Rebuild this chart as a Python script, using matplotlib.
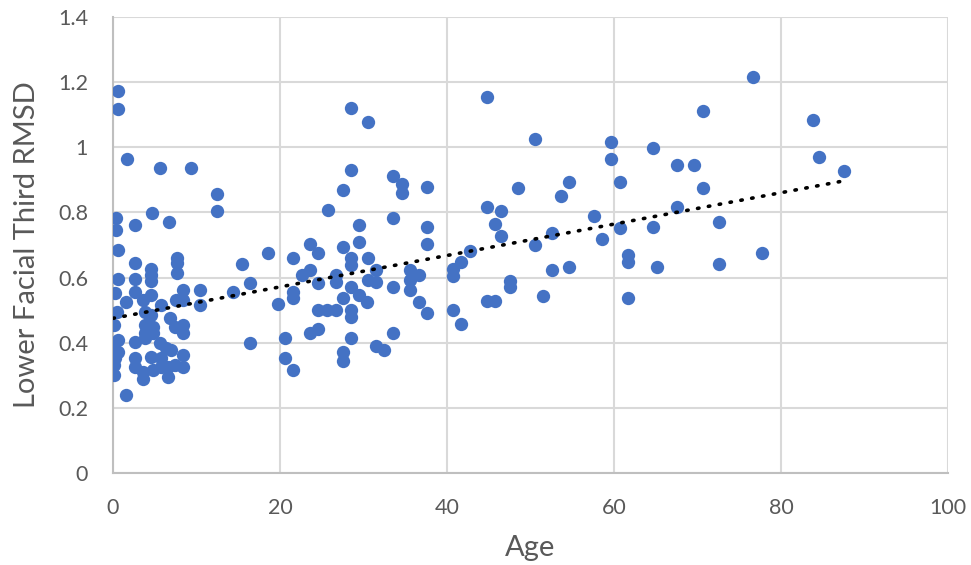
import numpy as np
import matplotlib
matplotlib.use("Agg")
import matplotlib.pyplot as plt

# values
age = [
    0.56, 0.56, 1.64, 5.67, 9.38, 12.5, 12.5, 0.32, 0.32, 2.63, 4.7, 6.7,
    0.56, 2.63, 4.6, 4.6, 7.7, 7.7, 7.7, 15.5, 0.56, 2.63, 4.6, 8.4, 10.4, 14.4,
    16.4, 0.24, 2.63, 4.6, 1.6, 3.6, 5.8, 7.6, 8.4, 10.4, 0.44, 3.8, 4.6, 6.8,
    0.1, 3.8, 4.8, 7.4, 8.4, 8.4, 3.8, 4.8, 0.6, 2.6, 3.8, 5.6, 16.4, 0.1, 0.6,
    6.4, 7.0, 0.1, 0.2, 2.6, 4.6, 5.8, 8.4, 0.1, 0.1, 2.6, 3.6, 3.6, 4.8, 5.8,
    6.6, 6.6, 7.4, 8.4, 1.6,
    28.5, 30.5, 28.5, 27.5, 33.5, 34.6, 34.6, 37.6, 25.7, 29.5, 33.5, 37.6,
    29.5, 37.6, 23.6, 24.6, 27.5, 18.6, 21.6, 28.5, 28.5, 30.5, 31.5, 23.6,
    22.6, 24.6, 26.7, 26.7, 28.5, 30.5, 31.5, 33.5, 35.6, 35.6, 36.7, 35.6,
    21.6, 21.6, 19.7, 27.5, 29.4, 30.4, 24.6, 25.6, 26.7, 28.5, 28.5, 36.6,
    37.6, 23.6, 24.6, 20.6, 28.5, 33.5, 20.6, 21.6, 27.5, 27.5, 31.5, 32.5,
    44.8, 50.5, 59.7, 59.7, 64.7, 48.5, 54.6, 53.6, 60.7, 44.8, 46.5, 45.7,
    46.5, 57.6, 60.7, 64.7, 58.6, 52.6, 50.5, 42.8, 41.7, 40.7, 40.7, 61.7,
    61.7, 52.6, 54.6, 65.1, 47.5, 47.5, 44.8, 45.7, 51.5, 61.7, 40.7, 41.7,
    76.7, 70.6, 83.8, 67.5, 69.6, 84.6, 87.6, 70.6, 67.5, 72.6, 77.7, 72.6,
]
rmsd = [
    1.173, 1.119, 0.963, 0.937, 0.937, 0.858, 0.805, 0.784, 0.745, 0.762, 0.798, 0.770,
    0.685, 0.644, 0.625, 0.608, 0.659, 0.644, 0.615, 0.642, 0.597, 0.597, 0.59, 0.562,
    0.562, 0.557, 0.582, 0.554, 0.557, 0.547, 0.526, 0.531, 0.516, 0.531, 0.531, 0.516,
    0.495, 0.495, 0.485, 0.475, 0.454, 0.454, 0.449, 0.449, 0.454, 0.429, 0.429, 0.429,
    0.408, 0.403, 0.414, 0.398, 0.398, 0.383, 0.372, 0.383, 0.378, 0.357, 0.352, 0.352,
    0.357, 0.352, 0.362, 0.332, 0.301, 0.326, 0.311, 0.29, 0.316, 0.326, 0.326, 0.296,
    0.332, 0.326, 0.24,
    1.12, 1.077, 0.930, 0.869, 0.912, 0.887, 0.859, 0.877, 0.807, 0.761, 0.782, 0.756,
    0.710, 0.703, 0.703, 0.675, 0.695, 0.675, 0.659, 0.659, 0.639, 0.659, 0.623, 0.623,
    0.608, 0.582, 0.608, 0.587, 0.572, 0.593, 0.587, 0.572, 0.623, 0.593, 0.608, 0.562,
    0.557, 0.536, 0.519, 0.536, 0.547, 0.526, 0.5, 0.5, 0.5, 0.5, 0.480, 0.526,
    0.492, 0.431, 0.441, 0.414, 0.414, 0.431, 0.352, 0.316, 0.372, 0.345, 0.390, 0.378,
    1.155, 1.025, 1.016, 0.963, 0.997, 0.876, 0.893, 0.850, 0.893, 0.816, 0.805, 0.764,
    0.729, 0.789, 0.751, 0.756, 0.718, 0.736, 0.700, 0.683, 0.649, 0.625, 0.605, 0.669,
    0.649, 0.623, 0.632, 0.632, 0.590, 0.572, 0.529, 0.529, 0.543, 0.536, 0.500, 0.457,
    1.217, 1.111, 1.084, 0.946, 0.946, 0.971, 0.928, 0.876, 0.818, 0.770, 0.675, 0.642,
]

# linear trendline (the plotted sample is incomplete)
trend_intercept = 0.475
trend_slope = 0.00482

x_ticks = [0, 20, 40, 60, 80, 100]
y_ticks = [0, 0.2, 0.4, 0.6, 0.8, 1.0, 1.2, 1.4]
y_labels = ["0", "0.2", "0.4", "0.6", "0.8", "1", "1.2", "1.4"]

plt.rcParams["font.family"] = ["Lato", "DejaVu Sans"]

fig = plt.figure(figsize=(9.71, 5.65), dpi=100)
ax = fig.add_axes([0.1164, 0.1628, 0.8599, 0.8071])

ax.scatter(age, rmsd, s=92, color="#4472C4", linewidths=0, zorder=3)

tx = np.array([0, max(age)])
ax.plot(tx, trend_intercept + trend_slope * tx, color="black", lw=2.6,
        linestyle=(0, (0.4, 2.65)), dash_capstyle="round", zorder=4)

ax.set_xlim(0, 100)
ax.set_ylim(0, 1.4)
ax.set_xticks(x_ticks)
ax.set_yticks(y_ticks, y_labels)
ax.grid(True, color="#d9d9d9", lw=1.5, zorder=0)
ax.set_axisbelow(True)
ax.tick_params(length=0, labelsize=15.5, colors="#595959")
ax.tick_params(axis="x", pad=18)
ax.tick_params(axis="y", pad=18)
for side in ("top", "right"):
    ax.spines[side].set_visible(False)
for side in ("left", "bottom"):
    ax.spines[side].set_color("#bfbfbf")
    ax.spines[side].set_linewidth(1.5)

ax.set_xlabel("Age", fontsize=21, color="#595959", labelpad=12)
ax.set_ylabel("Lower Facial Third RMSD", fontsize=21, color="#595959", labelpad=13)

fig.savefig("out.png", dpi=100, facecolor="white")
